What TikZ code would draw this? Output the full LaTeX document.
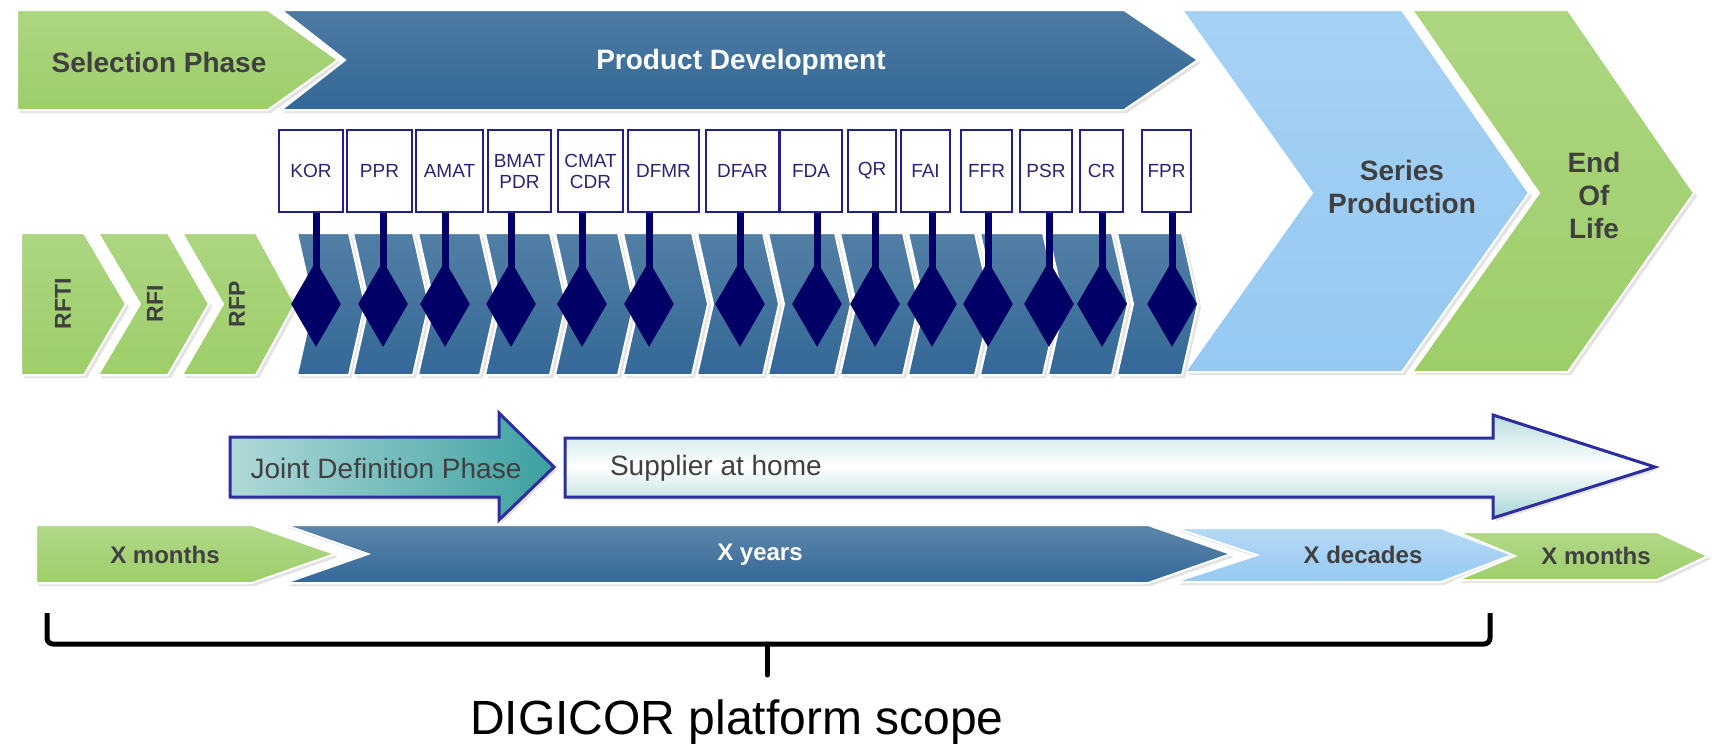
\documentclass[tikz,border=0pt]{standalone}
\usepackage{fontspec}
\setmainfont{Liberation Sans}
\usepackage{tikz}
\usetikzlibrary{shapes.geometric,shadows}
\definecolor{phgreen}{RGB}{158,206,106}
\definecolor{devblue}{RGB}{52,104,150}
\definecolor{serblue}{RGB}{150,201,242}
\definecolor{gatenavy}{RGB}{0,0,102}
\definecolor{gatetext}{RGB}{45,35,115}
\definecolor{jdteal}{RGB}{60,160,160}
\definecolor{arrowrim}{RGB}{45,45,160}
\definecolor{labelgray}{RGB}{64,64,64}
\tikzset{%
    phase/.style={draw=white, line width=1pt,
      drop shadow={opacity=0.22, shadow xshift=1.5pt, shadow yshift=-1.5pt}},
    rim/.style={draw=arrowrim, line width=1.5pt,
      drop shadow={opacity=0.22, shadow xshift=1.5pt, shadow yshift=-1.5pt}}
}

\begin{document}
\begin{tikzpicture}[x=0.5pt, y=-0.5pt,
    phlabel/.style={font=\fontsize{14}{16.5}\selectfont\bfseries, text=labelgray, align=center},
    durlabel/.style={font=\fontsize{12}{14}\selectfont\bfseries, text=labelgray},
    rflabel/.style={font=\fontsize{11.5}{13}\selectfont\bfseries, text=labelgray, rotate=90},
    gatebox/.style={draw=arrowrim!70!gatenavy, line width=1pt, fill=white, minimum height=41pt,
      inner sep=1pt, align=center, text=gatetext, font=\fontsize{9.5}{10.5}\selectfont},
    gatedia/.style={diamond, fill=gatenavy, minimum width=25pt, minimum height=43pt, inner sep=0pt},
    stem/.style={draw=gatenavy, line width=3.5pt}]
  \useasboundingbox (0,0) rectangle (1715,750);

  % phases
  \draw[phase, top color=phgreen!85!white, bottom color=phgreen] (17,10) -- (268,10) -- (338,60) -- (268,110) -- (17,110) -- cycle;
  \draw[phase, top color=devblue!88!white, bottom color=devblue] (281,10) -- (1124,10) -- (1198,60) -- (1124,110) -- (281,110) -- (345,60) -- cycle;
  \draw[phase, top color=serblue!85!white, bottom color=serblue] (1182,10) -- (1402,10) -- (1529,193) -- (1402,372) -- (1185,372) -- (1312,193) -- cycle;
  \draw[phase, top color=phgreen!85!white, bottom color=phgreen] (1412,10) -- (1568,10) -- (1694,193) -- (1568,372) -- (1412,372) -- (1539,193) -- cycle;
  \draw (159,62) node[phlabel] (selLbl) {Selection Phase};
  \draw (741,62) node[phlabel, text=white] (devLbl) {Product Development};
  \draw (1402,187) node[phlabel] (serLbl) {Series\\Production};
  \draw (1594,195) node[phlabel] (eolLbl) {End\\Of\\Life};

  % request steps
  \draw[phase, top color=phgreen!85!white, bottom color=phgreen] (21,233) -- (84,233) -- (126,304) -- (84,375) -- (21,375) -- cycle;
  \draw[phase, top color=phgreen!85!white, bottom color=phgreen] (98,233) -- (168,233) -- (209,304) -- (168,375) -- (98,375) -- (140,304) -- cycle;
  \draw[phase, top color=phgreen!85!white, bottom color=phgreen] (182,233) -- (256,233) -- (295,304) -- (256,375) -- (182,375) -- (223,304) -- cycle;
  \draw (63,304) node[rflabel] (rftiLbl) {RFTI};
  \draw (155,304) node[rflabel] (rfiLbl) {RFI};
  \draw (237,304) node[rflabel] (rfpLbl) {RFP};

  \foreach \a/\b in {297/349, 353/413, 418/480, 485/550, 555/618, 623/692, 697/763,
                     768/835, 840/903, 908/975, 980/1043, 1048/1112, 1117/1182}
    \draw[phase, top color=devblue!85!white, bottom color=devblue] (\a,233) -- (\b,233) -- (\b+16,304) -- (\b,375) -- (\a,375) -- (\a+16,304) -- cycle;

  % gates
  \foreach \c/\w/\d/\lab [count=\i] in {311/64/316/KOR, 379.5/65/383/PPR, 449.5/67/445/AMAT,
      519.5/63/511/{BMAT\\PDR}, 590.5/65/582/{CMAT\\CDR}, 663.5/71/649/DFMR, 742.5/73/740/DFAR,
      811/62/817/FDA, 872/48/875/QR, 925.5/49/932/FAI, 986.5/51/988/FFR, 1046/52/1049/PSR,
      1101.5/43/1102/CR, 1166.5/49/1172/FPR}
  {
    \node[gatebox, minimum width=\w*0.5pt] (g\i) at (\c,171) {\lab};
    \node[gatedia] (d\i) at (\d,304) {};
    \draw[stem, shorten >=-8pt] (g\i.south -| d\i.north) -- (d\i.north);
  }

  % supplier involvement
  \draw[rim, left color=jdteal!40!white, right color=jdteal] (230,437) -- (499,437) -- (499,413) -- (554,467) -- (499,520) -- (499,497) -- (230,497) -- cycle;
  \draw[rim, top color=jdteal!35!white, bottom color=jdteal!45!white, middle color=white] (565,438) -- (1493,438) -- (1493,415) -- (1655,467) -- (1493,518) -- (1493,497) -- (565,497) -- cycle;
  \draw (386,468) node[font=\fontsize{14}{16}\selectfont, text=labelgray] (jdLbl) {Joint Definition Phase};
  \draw (603,468) node[anchor=west, font=\fontsize{14}{16}\selectfont, text=labelgray] (supLbl) {Supplier at home};

  % durations
  \draw[phase, top color=phgreen!80!white, bottom color=phgreen] (36,525) -- (252,525) -- (335,554) -- (252,583) -- (36,583) -- cycle;
  \draw[phase, top color=devblue!80!white, bottom color=devblue] (285,525) -- (1148,525) -- (1231,554) -- (1148,583) -- (285,583) -- (368,554) -- cycle;
  \draw[phase, top color=serblue!70!white, bottom color=serblue] (1175,528) -- (1441,528) -- (1512,555) -- (1441,582) -- (1175,582) -- (1257,555) -- cycle;
  \draw[phase, top color=phgreen!80!white, bottom color=phgreen] (1457,532) -- (1657,532) -- (1708,556) -- (1657,580) -- (1457,580) -- (1515,556) -- cycle;
  \draw (165,555) node[durlabel] (monLbl) {X months};
  \draw (760,555) node[durlabel, text=white] (yrsLbl) {X years};
  \draw (1363,555) node[durlabel] (decLbl) {X decades};
  \draw (1596,556) node[durlabel] (eolmonLbl) {X months};

  % scope bracket
  \coordinate (scopeL) at (47,613);
  \coordinate (scopeR) at (1490,613);
  \coordinate (scopeTip) at (767,675);
  \draw[line width=2.5pt, rounded corners=3pt] (scopeL) |- (scopeTip |- 0,644) -| (scopeR);
  \draw[line width=2.5pt, line cap=round] (scopeTip |- 0,644) -- (scopeTip);
  \draw (737,722) node[font=\fontsize{24}{28}\selectfont] (scopeLbl) {DIGICOR platform scope};
\end{tikzpicture}
\end{document}
